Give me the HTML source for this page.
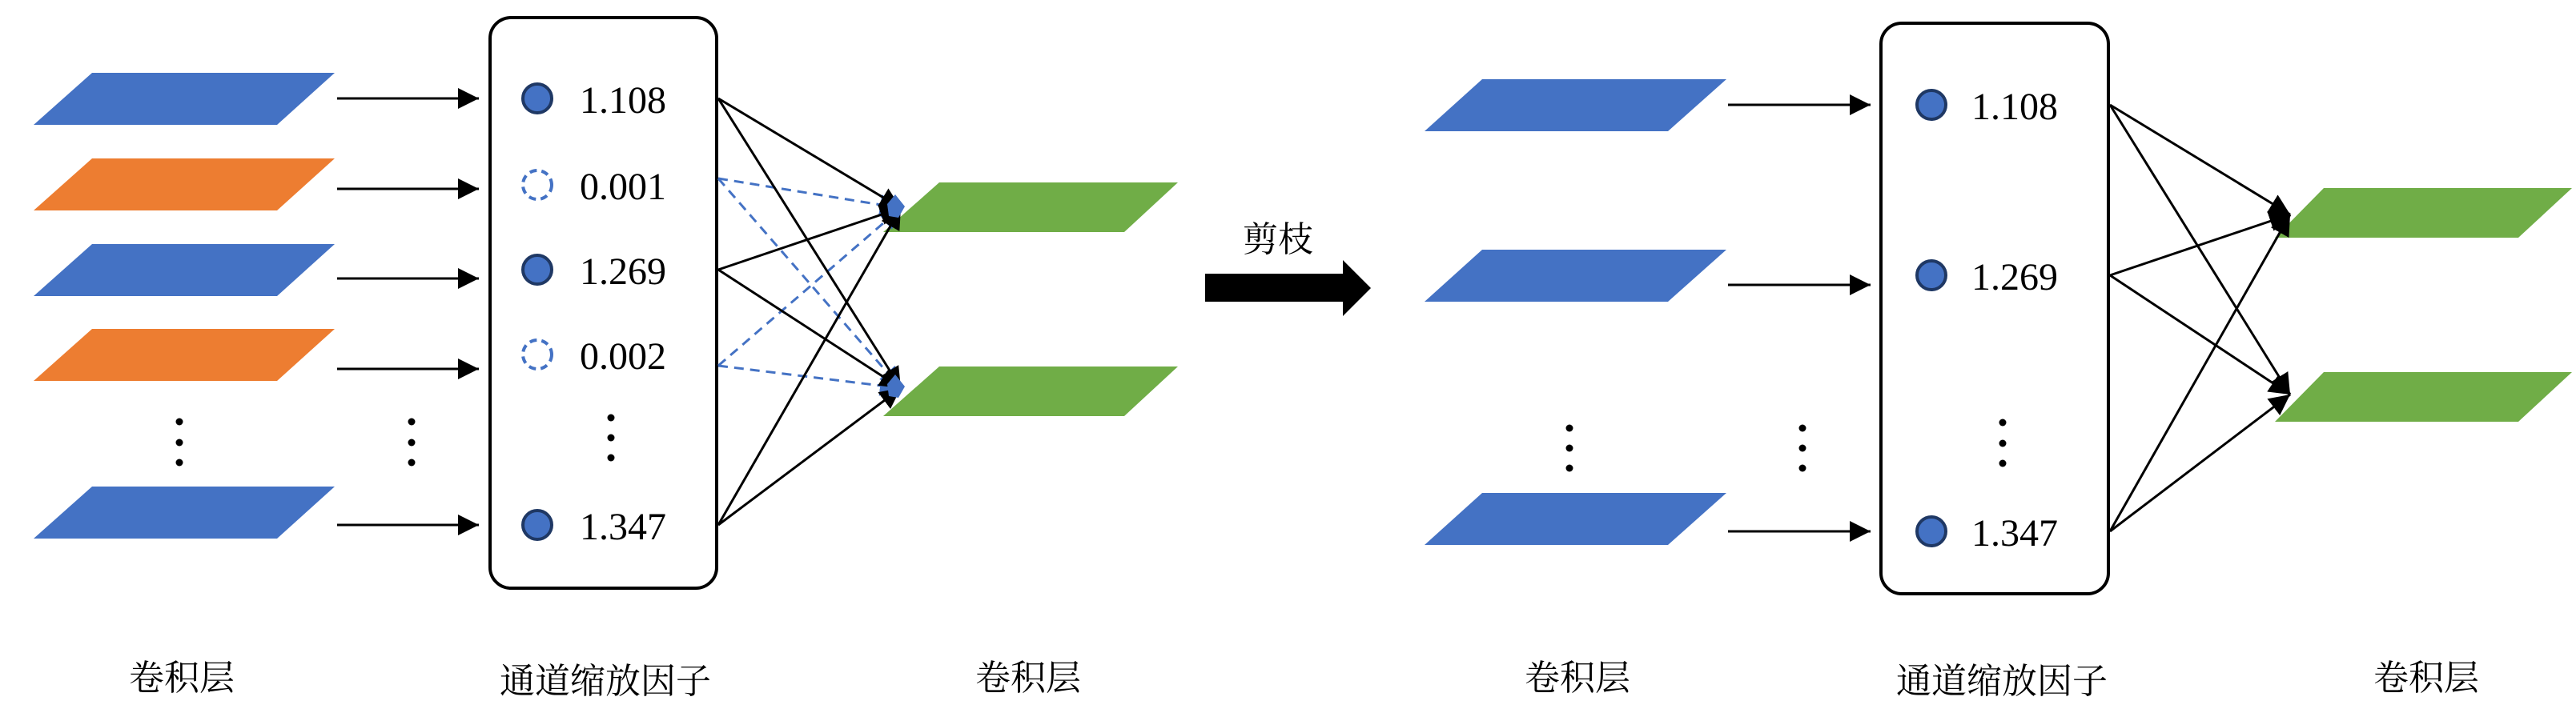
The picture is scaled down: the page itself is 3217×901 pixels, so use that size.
<!DOCTYPE html>
<html><head><meta charset="utf-8"><style>
html,body{margin:0;padding:0;background:#fff;}
svg{display:block;}
.num{font-family:"Liberation Serif",serif;font-size:48px;fill:#000;}
.cn{font-family:"Liberation Serif","Noto Serif CJK SC","Noto Sans CJK SC",serif;font-size:44px;fill:#000;}
</style></head><body>
<svg width="3217" height="901" viewBox="0 0 3217 901" xmlns="http://www.w3.org/2000/svg">
<defs>
<marker id="ah" markerWidth="10" markerHeight="10" refX="9" refY="5" orient="auto" markerUnits="userSpaceOnUse" viewBox="0 0 10 10">
</marker>
<marker id="a" viewBox="0 0 10 10" refX="10" refY="5" markerWidth="26" markerHeight="26" markerUnits="userSpaceOnUse" orient="auto"><path d="M0,0 L10,5 L0,10 z" fill="#000"/></marker>
<marker id="ab" viewBox="0 0 10 10" refX="10" refY="5" markerWidth="26" markerHeight="26" markerUnits="userSpaceOnUse" orient="auto"><path d="M0,0 L10,5 L0,10 z" fill="#4472c4"/></marker>
</defs>

<!-- LEFT inputs -->
<g>
<polygon points="42,156 115,91 418,91 346,156" fill="#4472c4"/>
<polygon points="42,263 115,198 418,198 346,263" fill="#ed7d31"/>
<polygon points="42,370 115,305 418,305 346,370" fill="#4472c4"/>
<polygon points="42,476 115,411 418,411 346,476" fill="#ed7d31"/>
<polygon points="42,673 115,608 418,608 346,673" fill="#4472c4"/>
</g>
<g stroke="#000" stroke-width="3" marker-end="url(#a)">
<line x1="421" y1="123" x2="598" y2="123"/>
<line x1="421" y1="236" x2="598" y2="236"/>
<line x1="421" y1="348" x2="598" y2="348"/>
<line x1="421" y1="461" x2="598" y2="461"/>
<line x1="421" y1="656" x2="598" y2="656"/>
</g>
<g fill="#000">
<circle cx="224" cy="527" r="4.5"/><circle cx="224" cy="553" r="4.5"/><circle cx="224" cy="578" r="4.5"/>
<circle cx="514" cy="527" r="4.5"/><circle cx="514" cy="553" r="4.5"/><circle cx="514" cy="578" r="4.5"/>
<circle cx="763" cy="522" r="4.5"/><circle cx="763" cy="547" r="4.5"/><circle cx="763" cy="572" r="4.5"/>
</g>
<rect x="612" y="22" width="283" height="713" rx="26" fill="none" stroke="#000" stroke-width="4"/>
<circle cx="671" cy="123" r="18" fill="#4472c4" stroke="#1f3864" stroke-width="4"/>
<circle cx="671" cy="231" r="18" fill="none" stroke="#4472c4" stroke-width="4" stroke-dasharray="9,6"/>
<circle cx="671" cy="337" r="18" fill="#4472c4" stroke="#1f3864" stroke-width="4"/>
<circle cx="671" cy="443" r="18" fill="none" stroke="#4472c4" stroke-width="4" stroke-dasharray="9,6"/>
<circle cx="671" cy="656" r="18" fill="#4472c4" stroke="#1f3864" stroke-width="4"/>
<text class="num" x="724" y="141">1.108</text>
<text class="num" x="724" y="249">0.001</text>
<text class="num" x="724" y="355">1.269</text>
<text class="num" x="724" y="461">0.002</text>
<text class="num" x="724" y="674">1.347</text>

<polygon points="1103,290 1173,228 1471,228 1404,290" fill="#70ad47"/>
<polygon points="1103,520 1173,458 1471,458 1404,520" fill="#70ad47"/>

<g stroke="#4472c4" stroke-width="3" stroke-dasharray="12,8" fill="none" marker-end="url(#ab)">
<line x1="897" y1="223" x2="1125" y2="260"/>
<line x1="897" y1="223" x2="1125" y2="485"/>
<line x1="897" y1="457" x2="1125" y2="260"/>
<line x1="897" y1="457" x2="1125" y2="485"/>
</g>
<g stroke="#000" stroke-width="3" fill="none" marker-end="url(#a)">
<line x1="897" y1="123" x2="1125" y2="260"/>
<line x1="897" y1="123" x2="1125" y2="485"/>
<line x1="897" y1="337" x2="1125" y2="260"/>
<line x1="897" y1="337" x2="1125" y2="485"/>
<line x1="897" y1="656" x2="1125" y2="260"/>
<line x1="897" y1="656" x2="1125" y2="485"/>
</g>
<polygon points="1108,255 1118,243 1130,258 1122,272 1110,270" fill="#4472c4"/>
<polygon points="1108,480 1118,468 1130,483 1122,497 1110,495" fill="#4472c4"/>

<text class="cn" x="227" y="862" text-anchor="middle">卷积层</text>
<text class="cn" x="756" y="866" text-anchor="middle">通道缩放因子</text>
<text class="cn" x="1284" y="862" text-anchor="middle">卷积层</text>

<!-- Prune arrow -->
<polygon points="1505,342 1677,342 1677,325 1712,360 1677,395 1677,377 1505,377" fill="#000"/>
<text class="cn" x="1596" y="314" text-anchor="middle">剪枝</text>

<!-- RIGHT -->
<polygon points="1779,164 1851,99 2156,99 2083,164" fill="#4472c4"/>
<polygon points="1779,377 1851,312 2156,312 2083,377" fill="#4472c4"/>
<polygon points="1779,681 1851,616 2156,616 2083,681" fill="#4472c4"/>
<g stroke="#000" stroke-width="3" marker-end="url(#a)">
<line x1="2158" y1="131" x2="2336" y2="131"/>
<line x1="2158" y1="356" x2="2336" y2="356"/>
<line x1="2158" y1="664" x2="2336" y2="664"/>
</g>
<g fill="#000">
<circle cx="1960" cy="535" r="4.5"/><circle cx="1960" cy="560" r="4.5"/><circle cx="1960" cy="585" r="4.5"/>
<circle cx="2251" cy="535" r="4.5"/><circle cx="2251" cy="560" r="4.5"/><circle cx="2251" cy="585" r="4.5"/>
<circle cx="2501" cy="528" r="4.5"/><circle cx="2501" cy="554" r="4.5"/><circle cx="2501" cy="579" r="4.5"/>
</g>
<rect x="2349" y="29" width="284" height="713" rx="26" fill="none" stroke="#000" stroke-width="4"/>
<circle cx="2412" cy="131" r="18" fill="#4472c4" stroke="#1f3864" stroke-width="4"/>
<circle cx="2412" cy="344" r="18" fill="#4472c4" stroke="#1f3864" stroke-width="4"/>
<circle cx="2412" cy="664" r="18" fill="#4472c4" stroke="#1f3864" stroke-width="4"/>
<text class="num" x="2462" y="149">1.108</text>
<text class="num" x="2462" y="362">1.269</text>
<text class="num" x="2462" y="682">1.347</text>

<polygon points="2841,297 2902,235 3212,235 3145,297" fill="#70ad47"/>
<polygon points="2841,527 2902,465 3212,465 3145,527" fill="#70ad47"/>
<g stroke="#000" stroke-width="3" fill="none" marker-end="url(#a)">
<line x1="2635" y1="131" x2="2860" y2="268"/>
<line x1="2635" y1="131" x2="2860" y2="493"/>
<line x1="2635" y1="344" x2="2860" y2="268"/>
<line x1="2635" y1="344" x2="2860" y2="493"/>
<line x1="2635" y1="664" x2="2860" y2="268"/>
<line x1="2635" y1="664" x2="2860" y2="493"/>
</g>

<text class="cn" x="1970" y="862" text-anchor="middle">卷积层</text>
<text class="cn" x="2500" y="866" text-anchor="middle">通道缩放因子</text>
<text class="cn" x="3030" y="862" text-anchor="middle">卷积层</text>
</svg>
</body></html>
